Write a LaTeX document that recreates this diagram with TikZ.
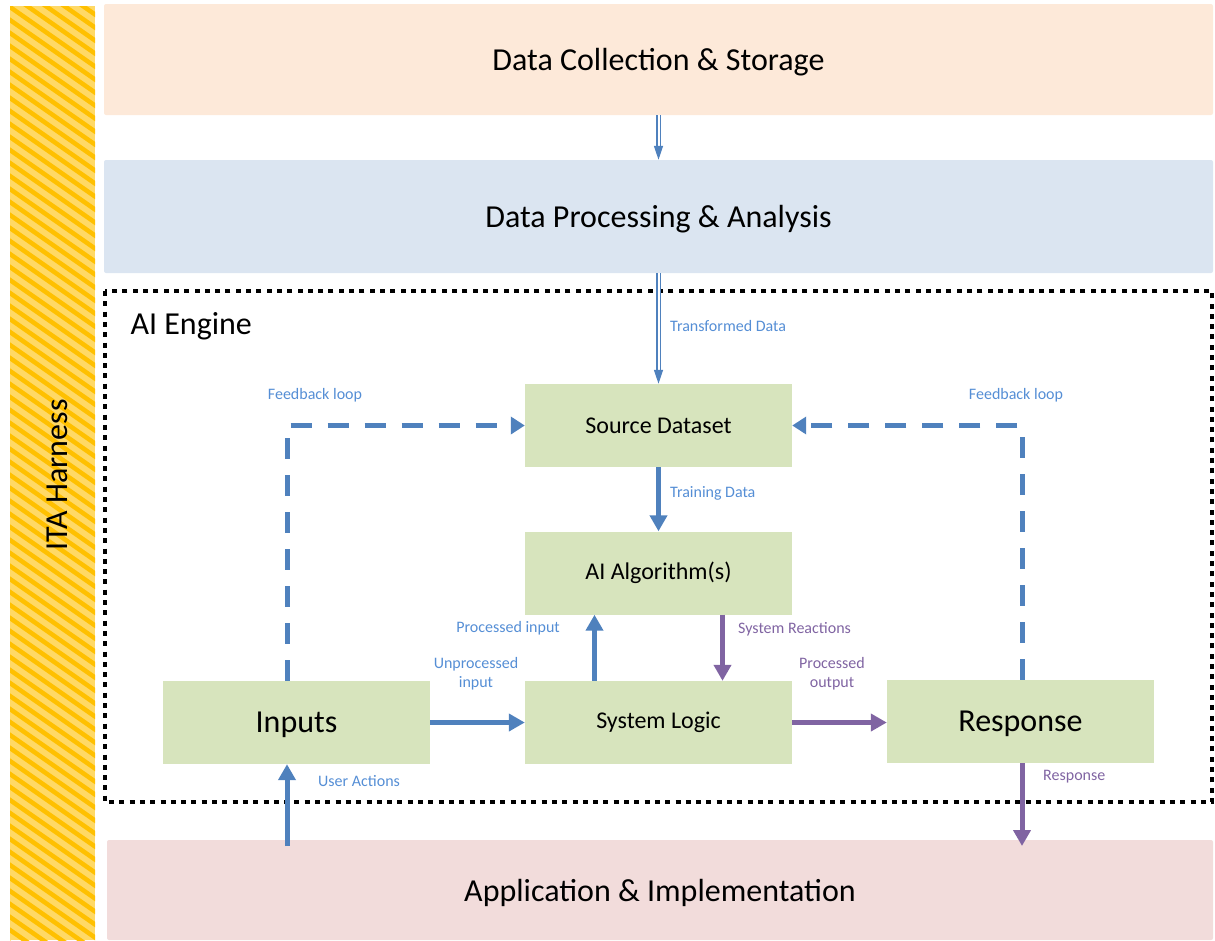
\documentclass[tikz,border=0pt]{standalone}
\usepackage{fontspec}
\setmainfont{Carlito}
\usetikzlibrary{arrows.meta}
\definecolor{arrblue}{HTML}{4F81BD}
\definecolor{arrpurple}{HTML}{8064A2}
\definecolor{lblblue}{HTML}{558ED5}
\definecolor{boxgreen}{HTML}{D7E4BD}
\definecolor{collectfill}{HTML}{FDE9D9}
\definecolor{processfill}{HTML}{DBE5F1}
\definecolor{applyfill}{HTML}{F2DCDB}
\definecolor{stripelight}{HTML}{FFD966}
\definecolor{stripedark}{HTML}{FFC000}
\tikzset{
  layer/.style={fill=#1, draw=none, rounded corners=2pt, minimum width=1109pt, inner sep=0pt, text depth=0pt, font=\fontsize{32}{36}\selectfont},
  stage/.style={fill=boxgreen, draw=none, minimum width=267pt, minimum height=83pt, inner sep=0pt, font=\fontsize{24}{28}\selectfont},
  bigstage/.style={stage, text depth=0pt, font=\fontsize{32}{36}\selectfont},
  flow/.style={line width=5pt, -{Triangle[length=16pt, width=17pt]}},
  dbl/.style={draw=arrblue, double=white, double distance=2pt, line width=1.6pt, -{Triangle[length=14pt, width=9pt]}},
  fbloop/.style={draw=arrblue, line width=5pt, dash pattern=on 21pt off 16pt, -{Triangle[length=14pt, width=17pt]}},
  lbl/.style={font=\fontsize{16}{19}\selectfont, text=lblblue, inner sep=0pt, align=center},
  plbl/.style={lbl, text=arrpurple}
}
\begin{document}
\begin{tikzpicture}[x=1pt, y=-1pt]
\useasboundingbox (0,0) rectangle (1215,940);
% harness bar
\begin{scope}
\clip (10,6) rectangle (95,940);
\fill[stripelight] (10,6) rectangle (95,940);
\foreach \k in {-10,...,80}
  \draw[stripedark, line width=4.5pt] (0,\k*13) -- ++(110,77);
\end{scope}
\node[rotate=90, font=\fontsize{32}{36}\selectfont] (harness) at (57,475) {ITA Harness};
% layers
\node[layer=collectfill, minimum height=111pt] (dc) at (658.5,59.5) {Data Collection \& Storage};
\node[layer=processfill, minimum height=113pt] (dp) at (658.5,216.5) {Data Processing \& Analysis};
\node[layer=applyfill, minimum width=1106pt, minimum height=100pt] (app) at (660,890) {Application \& Implementation};
% engine
\draw[line width=4.5pt, dash pattern=on 5pt off 5.3pt] (105,291) rectangle (1212,802);
\node[anchor=west, font=\fontsize{32}{36}\selectfont] (eng) at (127,326) {AI Engine};
\node[stage] (src) at (658.5,425.5) {Source Dataset};
\node[stage] (alg) at (658.5,573) {AI Algorithm(s)};
\node[stage] (sys) at (658.5,722.5) {System Logic};
\node[bigstage] (inp) at (296.5,722.5) {Inputs};
\node[bigstage] (resp) at (1020.5,721.5) {Response};
\coordinate (ua) at (287,846);
\coordinate (ro) at (1022,846);
% connectors
\draw[dbl] (dc.south) -- (dp.north);
\draw[dbl] (dp.south) -- (src.north);
\draw[flow, arrblue] (src.south) -- (alg.north);
\draw[flow, arrblue] ([xshift=-64pt]sys.north) -- ([xshift=-64pt]alg.south);
\draw[flow, arrpurple] ([xshift=64pt]alg.south) -- ([xshift=64pt]sys.north);
\draw[flow, arrblue] (inp.east) -- (sys.west);
\draw[flow, arrpurple] (sys.east) -- (sys.east -| resp.west);
\draw[flow, arrblue] (ua) -- ([xshift=-9.5pt]inp.south);
\draw[flow, arrpurple] ([xshift=1.5pt]resp.south) -- (ro);
\draw[fbloop] ([xshift=-9.5pt]inp.north) |- (src.west);
\draw[fbloop] ([xshift=1.5pt]resp.north) |- (src.east);
% labels
\node[lbl, anchor=west] (l1) at (670,326) {Transformed Data};
\node[lbl, anchor=west] (l2) at (670,493) {Training Data};
\node[lbl, anchor=east] (l3) at (560,628) {Processed input};
\node[plbl, anchor=west] (l4) at (738,629) {System Reactions};
\node[lbl] (l5) at (476,674) {Unprocessed\\input};
\node[plbl] (l6) at (832,674) {Processed\\output};
\node[lbl] (l7) at (315,395) {Feedback loop};
\node[lbl] (l8) at (1016,395) {Feedback loop};
\node[lbl, anchor=west] (l9) at (318,781) {User Actions};
\node[plbl, anchor=west] (l10) at (1043,777) {Response};
\end{tikzpicture}
\end{document}
